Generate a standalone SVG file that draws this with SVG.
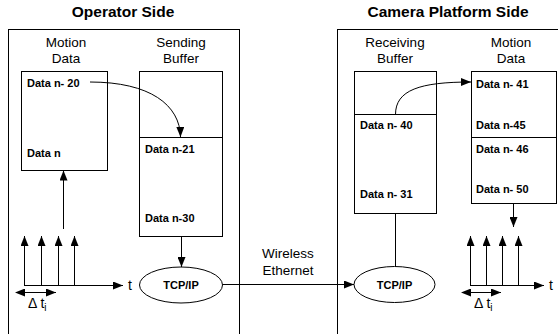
<svg xmlns="http://www.w3.org/2000/svg" width="558" height="334" viewBox="0 0 558 334">
<defs>
<marker id="ah" viewBox="0 0 10 8" refX="10" refY="4" markerWidth="10" markerHeight="8" markerUnits="userSpaceOnUse" orient="auto">
<path d="M0,0 L10,4 L0,8 Z" fill="#000"/>
</marker>
<marker id="ahs" viewBox="0 0 10 8" refX="0" refY="4" markerWidth="10" markerHeight="8" markerUnits="userSpaceOnUse" orient="auto-start-reverse">
<path d="M0,0 L10,4 L0,8 Z" fill="#000"/>
</marker>
<style>
.frame,.box,.ell{fill:#fff;stroke:#000;stroke-width:1}
.ln{fill:none;stroke:#000;stroke-width:1}
.arr{fill:none;stroke:#000;stroke-width:1;marker-end:url(#ah)}
.dbl{fill:none;stroke:#000;stroke-width:1;marker-end:url(#ah);marker-start:url(#ahs)}
.title{font-family:"Liberation Sans",Arial,sans-serif;font-weight:bold;font-size:15.5px;text-anchor:middle}
.lbl{font-family:"Liberation Sans",Arial,sans-serif;font-size:13.5px;text-anchor:middle}
.d{font-family:"Liberation Sans",Arial,sans-serif;font-weight:bold;font-size:11px}
.tcp{font-family:"Liberation Sans",Arial,sans-serif;font-weight:bold;font-size:11px;text-anchor:middle}
.ax{font-family:"Liberation Sans",Arial,sans-serif;font-size:14px}
</style>
</defs>
<rect width="558" height="334" fill="#fff"/>
<g id="operator-side">
<rect class="frame" x="8.5" y="29.5" width="231" height="320"/>
<text class="title" x="123" y="17">Operator Side</text>
</g>
<g id="camera-side">
<rect class="frame" x="337.5" y="29.5" width="240" height="320"/>
<text class="title" x="448" y="17">Camera Platform Side</text>
</g>
<g id="op-motion-data">
<text class="lbl" x="66" y="47">Motion</text>
<text class="lbl" x="66" y="63">Data</text>
<rect class="box" x="21.5" y="71.5" width="86" height="99"/>
<text class="d" x="27" y="87">Data n- 20</text>
<text class="d" x="27" y="157">Data n</text>
</g>
<g id="sending-buffer">
<text class="lbl" x="181" y="47">Sending</text>
<text class="lbl" x="181" y="63">Buffer</text>
<rect class="box" x="139.5" y="71.5" width="83" height="165"/>
<line class="ln" x1="139.5" y1="137.5" x2="222.5" y2="137.5"/>
<text class="d" x="145" y="153">Data n-21</text>
<text class="d" x="145" y="222">Data n-30</text>
</g>
<g id="tcp-left">
<ellipse class="ell" cx="181" cy="285" rx="41.5" ry="18"/>
<text class="tcp" x="181" y="289">TCP/IP</text>
</g>
<g id="receiving-buffer">
<text class="lbl" x="395" y="47">Receiving</text>
<text class="lbl" x="395" y="63">Buffer</text>
<rect class="box" x="354.5" y="71.5" width="82" height="142"/>
<line class="ln" x1="354.5" y1="114.5" x2="436.5" y2="114.5"/>
<text class="d" x="360" y="129">Data n- 40</text>
<text class="d" x="360" y="198">Data n- 31</text>
</g>
<g id="cam-motion-data">
<text class="lbl" x="511" y="47">Motion</text>
<text class="lbl" x="511" y="63">Data</text>
<rect class="box" x="471.5" y="71.5" width="85" height="132"/>
<line class="ln" x1="471.5" y1="137.5" x2="556.5" y2="137.5"/>
<text class="d" x="476" y="88">Data n- 41</text>
<text class="d" x="476" y="129">Data n-45</text>
<text class="d" x="476" y="153">Data n- 46</text>
<text class="d" x="476" y="193">Data n- 50</text>
</g>
<g id="tcp-right">
<ellipse class="ell" cx="394.5" cy="284.5" rx="40.5" ry="18"/>
<text class="tcp" x="394.5" y="288.5">TCP/IP</text>
</g>
<g id="op-timeline">
<path class="arr" d="M24.5,285.5 V236"/>
<path class="arr" d="M41.5,285.5 V236"/>
<path class="arr" d="M58.5,285.5 V236"/>
<path class="arr" d="M74.5,285.5 V236"/>
<path class="arr" d="M24,285.5 H123"/>
<text class="ax" x="128" y="290">t</text>
<path class="dbl" d="M25,292.5 H56"/>
<text class="ax" x="28" y="308">Δ t<tspan font-size="10" dy="3">i</tspan></text>
</g>
<g id="cam-timeline">
<path class="arr" d="M470.5,285.5 V236"/>
<path class="arr" d="M486.5,285.5 V236"/>
<path class="arr" d="M502.5,285.5 V236"/>
<path class="arr" d="M518.5,285.5 V236"/>
<path class="arr" d="M470,285.5 H544"/>
<text class="ax" x="549" y="290">t</text>
<path class="dbl" d="M471,292.5 H501"/>
<text class="ax" x="474" y="308">Δ t<tspan font-size="10" dy="3">i</tspan></text>
</g>
<g id="connectors">
<path class="arr" d="M90,82 C150,82 180,105 180.5,137"/>
<path class="arr" d="M63.5,229 V170.5"/>
<path class="arr" d="M181.5,236.5 V267"/>
<path class="arr" d="M222.5,284.5 H354"/>
<path class="arr" d="M395.5,114.5 C395.5,90 420,82 471,82"/>
<path class="ln" d="M395.5,213.5 V266.5"/>
<path class="arr" d="M513.5,203.5 V227"/>
<text class="lbl" x="288" y="258">Wireless</text>
<text class="lbl" x="288" y="275">Ethernet</text>
</g>
</svg>
